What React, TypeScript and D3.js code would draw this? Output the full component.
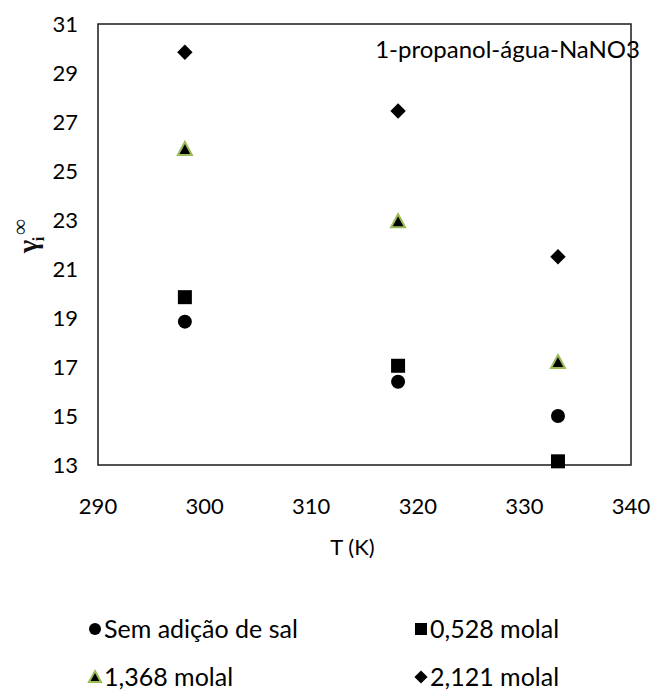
import React, { useEffect, useRef } from 'react';
import * as d3 from 'd3';

// Data
const temperatures = [298.15, 318.15, 333.15];
const seriesNames = ['Sem adição de sal', '0,528 molal', '1,368 molal', '2,121 molal'];
const semSal = [18.85, 16.4, 15.0];
const molal0528 = [19.85, 17.05, 13.15];
const molal1368 = [25.9, 22.95, 17.2];
const molal2121 = [29.85, 27.45, 21.5];
const xTicks = [290, 300, 310, 320, 330, 340];
const yTicks = [13, 15, 17, 19, 21, 23, 25, 27, 29, 31];

const FONT = 'Lato, "Open Sans", sans-serif';

type Shape = 'circle' | 'square' | 'triangle' | 'diamond';

const App: React.FC = () => {
  const svgRef = useRef<SVGSVGElement>(null);

  useEffect(() => {
    if (!svgRef.current) return;
    const svg = d3.select(svgRef.current);
    svg.selectAll('*').remove();

    const margin = { top: 24, right: 21, bottom: 226, left: 98 };
    const width = 652;
    const height = 691;
    const chartWidth = width - margin.left - margin.right;
    const chartHeight = height - margin.top - margin.bottom;

    const x = d3.scaleLinear().domain([290, 340]).range([0, chartWidth]);
    const y = d3.scaleLinear().domain([13, 31]).range([chartHeight, 0]);

    const g = svg.append('g').attr('transform', `translate(${margin.left},${margin.top})`);

    // Frame
    g.append('rect')
      .attr('x', 0)
      .attr('y', 0)
      .attr('width', chartWidth)
      .attr('height', chartHeight)
      .attr('fill', 'none')
      .attr('stroke', '#1a1a1a')
      .attr('stroke-width', 1.5);

    // Tick labels
    g.selectAll('.ytick')
      .data(yTicks)
      .enter()
      .append('text')
      .attr('x', -20)
      .attr('y', d => y(d))
      .attr('dy', '0.35em')
      .attr('text-anchor', 'end')
      .style('font-family', FONT)
      .style('font-size', '22px')
      .style('fill', '#000')
      .text(d => d);

    g.selectAll('.xtick')
      .data(xTicks)
      .enter()
      .append('text')
      .attr('x', d => x(d))
      .attr('y', chartHeight + 41)
      .attr('dy', '0.35em')
      .attr('text-anchor', 'middle')
      .style('font-family', FONT)
      .style('font-size', '22px')
      .style('fill', '#000')
      .text(d => d);

    // Axis titles
    g.append('text')
      .attr('x', chartWidth / 2 - 12)
      .attr('y', chartHeight + 82)
      .attr('dy', '0.35em')
      .attr('text-anchor', 'middle')
      .style('font-family', FONT)
      .style('font-size', '22px')
      .text('T (K)');

    const yl = svg.append('text')
      .attr('transform', 'translate(37,253) rotate(-90)')
      .attr('text-anchor', 'start')
      .style('font-family', '"Liberation Serif", serif')
      .style('font-weight', 'bold')
      .style('font-size', '28px')
      .style('fill', '#111');
    yl.append('tspan').text('γ');
    yl.append('tspan').attr('dx', 5).attr('dy', -10).style('font-size', '22px').text('∞');
    yl.append('tspan').attr('dx', -22).attr('dy', 17).style('font-size', '16px').text('i');

    g.append('text')
      .attr('x', chartWidth + 9)
      .attr('y', 26)
      .attr('dy', '0.35em')
      .attr('text-anchor', 'end')
      .style('font-family', FONT)
      .style('font-size', '24px')
      .text('1-propanol-água-NaNO3');

    const drawMarker = (
      sel: d3.Selection<SVGGElement, unknown, null, undefined>,
      shape: Shape,
      cx: number,
      cy: number,
      size: number
    ) => {
      const h = size / 2;
      if (shape === 'circle') {
        sel.append('circle').attr('cx', cx).attr('cy', cy).attr('r', h).attr('fill', '#000');
      } else if (shape === 'square') {
        sel.append('rect').attr('x', cx - h).attr('y', cy - h).attr('width', size).attr('height', size).attr('fill', '#000');
      } else if (shape === 'diamond') {
        const d = h * 1.1;
        sel.append('path')
          .attr('d', `M${cx},${cy - d}L${cx + d},${cy}L${cx},${cy + d}L${cx - d},${cy}Z`)
          .attr('fill', '#000');
      } else {
        sel.append('path')
          .attr('d', `M${cx},${cy - h}L${cx + h},${cy + h * 0.85}L${cx - h},${cy + h * 0.85}Z`)
          .attr('fill', '#000')
          .attr('stroke', '#9BBB59')
          .attr('stroke-width', 2)
          .attr('stroke-linejoin', 'miter');
      }
    };

    const series: { values: number[]; shape: Shape }[] = [
      { values: semSal, shape: 'circle' },
      { values: molal0528, shape: 'square' },
      { values: molal1368, shape: 'triangle' },
      { values: molal2121, shape: 'diamond' },
    ];

    series.forEach(s => {
      s.values.forEach((v, i) => {
        drawMarker(g, s.shape, x(temperatures[i]), y(v), 14);
      });
    });

    // Legend
    const legendPos = [
      { x: 95, y: 629 },
      { x: 421, y: 629 },
      { x: 95, y: 677 },
      { x: 421, y: 677 },
    ];
    const leg = svg.append('g');
    seriesNames.forEach((name, i) => {
      const p = legendPos[i];
      drawMarker(leg, series[i].shape, p.x, p.y, 12);
      leg.append('text')
        .attr('x', p.x + 9)
        .attr('y', p.y)
        .attr('dy', '0.35em')
        .style('font-family', FONT)
        .style('font-size', '25px')
        .text(name);
    });
  }, []);

  return (
    <svg
      ref={svgRef}
      width={652}
      height={691}
      style={{ position: 'absolute', left: 0, top: 0, background: '#fff' }}
    />
  );
};

export default App;
